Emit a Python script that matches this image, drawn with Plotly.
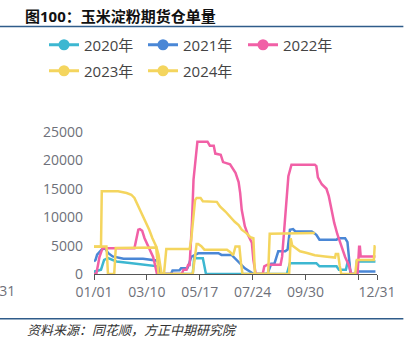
import plotly.graph_objects as go
import pandas as pd

YEAR = "2023"
W, H = 414, 355
# plot box in pixels
L, R, T, B = 94.3, 376.7, 132.3, 274.3

title_text = "<b>图100：玉米淀粉期货仓单量</b>"
source_text = "<i>资料来源：同花顺，方正中期研究院</i>"

tick_dates = ["01/01", "03/10", "05/17", "07/24", "09/30", "12/07", "12/31"]
tick_labels = ["01/01", "03/10", "05/17", "07/24", "09/30", "", "12/31"]
y_ticks = [0, 5000, 10000, 15000, 20000, 25000]

names = ["2020年", "2021年", "2022年", "2023年", "2024年"]
colors = ["#3DB7D1", "#4A87D6", "#F160A6", "#F4D55E", "#F4D55E"]

d2020 = ["01/01", "01/02", "01/10", "01/14", "01/19", "01/30", "02/16", "03/05", "03/24", "03/26",
         "05/08", "05/10", "05/13", "05/21", "05/22", "05/25", "09/06", "09/10", "10/14", "10/18",
         "11/09", "11/12", "11/21", "11/23", "11/25", "11/27", "12/04", "12/05", "12/29"]
v2020 = [0, 450, 750, 2500, 2800, 2200, 1950, 1650, 1350, 0,
         0, 3050, 2770, 2770, 2200, 0, 0, 1900, 1900, 1350,
         1350, 760, 760, 2000, 2000, 0, 0, 2180, 2180]

d2021 = ["01/01", "01/03", "01/05", "01/11", "01/15", "01/19", "01/25", "02/08", "03/05", "03/14",
         "03/24", "03/27", "04/10", "04/12", "04/21", "04/23", "05/01", "05/03", "05/06", "05/10",
         "05/15", "06/10", "06/14", "06/27", "07/01", "07/08", "07/14", "07/21", "07/25", "08/12",
         "08/15", "08/17", "08/21", "08/24", "08/26", "09/04", "09/07", "09/10", "09/14", "09/17",
         "10/08", "10/10", "10/14", "10/18", "11/09", "11/11", "11/20", "11/23", "11/25", "11/27",
         "12/04", "12/05", "12/29"]
v2021 = [2200, 2500, 3400, 4300, 4600, 3700, 3100, 2700, 2700, 2500,
         2350, 0, 0, 600, 650, 1000, 1000, 1600, 3000, 3300,
         3650, 3650, 3360, 3360, 2770, 1890, 1000, 400, 0, 0,
         1340, 1800, 1800, 3100, 4000, 4000, 4300, 7800, 7900, 7500,
         7500, 7300, 6900, 6050, 6050, 6300, 6300, 5600, 2500, 0,
         0, 450, 450]

d2022 = ["01/01", "01/04", "01/08", "01/12", "02/22", "02/27", "03/01", "03/04", "03/07", "03/12",
         "03/18", "03/20", "03/23", "04/24", "04/26", "04/30", "05/02", "05/04", "05/07", "05/09",
         "05/12", "05/14", "05/27", "05/30", "06/04", "06/06", "06/13", "06/16", "06/25", "06/28",
         "07/02", "07/06", "07/08", "07/10", "07/14", "07/18", "07/23", "07/25", "07/28", "08/06",
         "08/08", "08/12", "08/29", "08/31", "09/03", "09/06", "09/08", "09/12", "10/12", "10/14",
         "10/16", "10/21", "10/27", "10/30", "11/02", "11/06", "11/10", "11/15", "11/20", "11/25",
         "11/28", "12/06", "12/08", "12/09", "12/10", "12/29"]
v2022 = [0, 0, 3000, 4550, 4550, 7800, 7900, 7600, 6300, 4800,
         3000, 1900, 0, 0, 760, 760, 1600, 1600, 9000, 16600,
         21000, 23300, 23300, 22600, 22600, 21200, 21000, 19700, 19300, 18600,
         17800, 16200, 14300, 11300, 8400, 6900, 5500, 2500, 0, 0,
         1340, 1640, 1640, 3100, 9000, 14300, 17200, 19250, 19250, 19000,
         17000, 15800, 15000, 13700, 11500, 9000, 7000, 5000, 3000, 1500,
         0, 0, 4800, 4800, 3100, 3100]

d2023 = ["01/01", "01/10", "01/11", "02/01", "02/12", "02/18", "02/22", "02/26", "03/03", "03/09",
         "03/13", "03/17", "03/22", "03/25", "03/28", "03/29", "05/08", "05/13", "05/15", "05/19",
         "05/23", "06/21", "06/25", "06/29", "07/02", "07/07", "07/09", "07/11", "09/09", "09/11",
         "09/13", "09/17", "09/23", "10/02", "10/12", "10/25", "11/04", "11/07", "11/08", "11/11",
         "11/13", "11/15", "12/03", "12/05", "12/27", "12/28", "12/29"]
v2023 = [4800, 4800, 14550, 14550, 14260, 13960, 13380, 12200, 10740, 9260,
         7800, 6340, 4860, 3400, 1340, 0, 0, 5300, 5300, 4900,
         4280, 4280, 3900, 3300, 4850, 4850, 2000, 0, 0, 6300,
         5000, 4580, 4000, 3700, 3300, 3100, 2900, 2900, 3500, 3500,
         1500, 0, 0, 2450, 2450, 4900, 4900]

d2024 = ["01/01", "01/17", "01/18", "01/19", "01/27", "01/28", "01/29", "03/22", "03/25", "04/01",
         "04/04", "05/04", "05/06", "05/11", "05/13", "05/18", "05/21", "06/08", "06/12", "06/19",
         "06/25", "07/01", "07/06", "07/10", "07/16", "07/21", "07/25", "07/27", "08/13", "08/15",
         "10/12"]
v2024 = [4850, 4850, 2500, 0, 0, 2500, 4580, 4650, 0, 0,
         4400, 4400, 6000, 13000, 13400, 13400, 12800, 12700, 11900, 11000,
         10000, 9200, 8600, 7800, 7200, 6500, 6300, 0, 0, 7100,
         7200]

series_dates = [d2020, d2021, d2022, d2023, d2024]
series_vals = [v2020, v2021, v2022, v2023, v2024]


def to_dt(md):
    return pd.to_datetime([YEAR + "/" + s for s in md], format="%Y/%m/%d")


def px(x):
    return (x - L) / (R - L)


def py(y):
    return (B - y) / (B - T)


FONT = "Open Sans, Noto Sans CJK SC, sans-serif"
fig = go.Figure()

for nm, col, dd, vv in zip(names, colors, series_dates, series_vals):
    fig.add_trace(go.Scatter(x=to_dt(dd), y=vv, mode="lines", name=nm,
                             line=dict(color=col, width=2.5), showlegend=False,
                             hoverinfo="skip"))

# legend entries: one legend box per entry, placed like the reference (pixel spots)
leg_ids = ["legend", "legend2", "legend3", "legend4", "legend5"]
leg_pos = [(44, 28.5), (143, 28.5), (243, 28.5), (44, 54.5), (143, 54.5)]
for nm, col, lid in zip(names, colors, leg_ids):
    fig.add_trace(go.Scatter(x=[None], y=[None], mode="lines+markers", name=nm,
                             line=dict(color=col, width=3),
                             marker=dict(color=col, size=11),
                             legend=lid))

leg_common = dict(orientation="h", xref="container", yref="container",
                  xanchor="left", yanchor="top",
                  font=dict(family=FONT, size=15, color="#444444"),
                  bgcolor="rgba(0,0,0,0)", itemclick=False)
legend_layout = {lid: dict(x=p[0] / W, y=1 - p[1] / H, **leg_common) for lid, p in zip(leg_ids, leg_pos)}

fig.update_layout(
    width=W, height=H,
    margin=dict(l=L, r=W - R, t=T, b=H - B, pad=0, autoexpand=False),
    paper_bgcolor="white", plot_bgcolor="white",
    font=dict(family=FONT, color="#6E7079"),
    xaxis=dict(type="date", range=[to_dt(["01/01"])[0], to_dt(["12/31"])[0]],
               tickvals=to_dt(tick_dates), ticktext=tick_labels,
               showgrid=False, zeroline=False, showline=True, linecolor="#555555", linewidth=1,
               ticks="outside", ticklen=5, tickcolor="#555555",
               tickfont=dict(size=14, color="#6E7079"), fixedrange=True),
    yaxis=dict(range=[0, 25000], tickvals=y_ticks, ticktext=[str(v) for v in y_ticks],
               showgrid=False, zeroline=False, showline=False, ticks="",
               ticklabelstandoff=10,
               tickfont=dict(size=14, color="#6E7079"), fixedrange=True),
    **legend_layout,
)

line_col = "#2F5C8A"
fig.add_shape(type="line", xref="paper", yref="paper", x0=px(0), x1=px(403), y0=py(26.7), y1=py(26.7),
              line=dict(color=line_col, width=1.5))
fig.add_shape(type="line", xref="paper", yref="paper", x0=px(0), x1=px(403), y0=py(319), y1=py(319),
              line=dict(color=line_col, width=1.5))

fig.add_annotation(text=title_text, xref="paper", yref="paper", x=px(23), y=py(16.5),
                   xanchor="left", yanchor="middle", showarrow=False,
                   font=dict(family=FONT, size=15, color="#111111"))
fig.add_annotation(text=source_text, xref="paper", yref="paper", x=px(25), y=py(330),
                   xanchor="left", yanchor="middle", showarrow=False,
                   font=dict(family=FONT, size=13, color="#333333"))
# leftmost clipped date label
fig.add_annotation(text="12/31", xref="paper", yref="paper", x=px(17), y=py(290.8),
                   xanchor="right", yanchor="middle", showarrow=False,
                   font=dict(family=FONT, size=14, color="#6E7079"))

fig.write_html("out.html", config={"displayModeBar": False},
               post_script="document.body.style.margin='0';document.body.style.overflow='hidden';")
